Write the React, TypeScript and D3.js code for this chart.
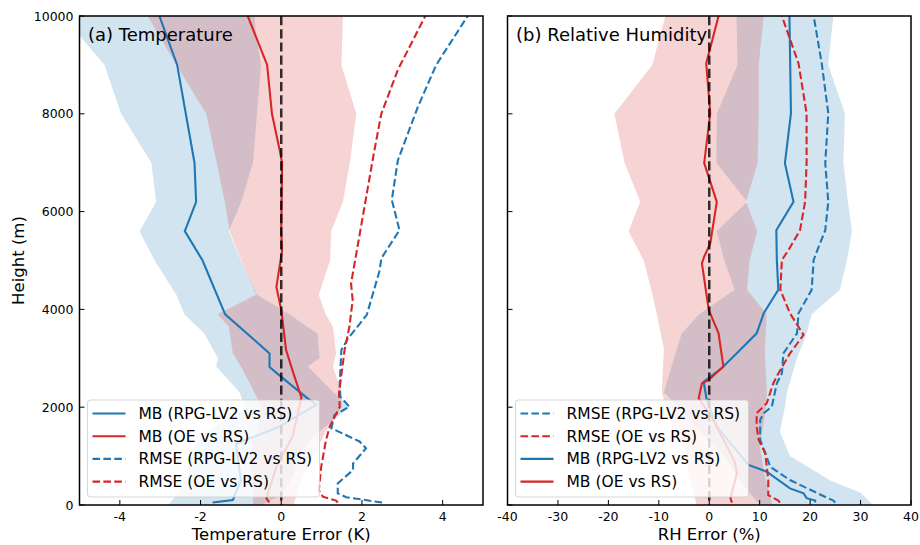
import React from 'react';
import * as d3 from 'd3';

// [height (m), value]
const tMbRpg = [[50, -1.7], [100, -1.2], [200, -1.15], [500, -1.0], [800, -1.05], [1250, -1.12], [1600, -0.05], [2050, 0.87], [2200, 0.62], [2620, 0.0], [2820, -0.29], [3100, -0.29], [3900, -1.39], [5000, -1.95], [5600, -2.39], [6200, -2.11], [7000, -2.15], [9000, -2.58], [10000, -3.02]];
const tMbOe = [[50, -0.3], [140, -0.37], [780, -0.12], [1400, 0.28], [2200, 0.5], [2620, 0.33], [3170, 0.12], [3990, 0.0], [4460, -0.12], [5200, 0.02], [5600, 0.0], [7000, 0.02], [7260, -0.04], [8000, -0.23], [9000, -0.35], [10000, -0.83]];
const tRmseRpg = [[50, 2.5], [160, 1.61], [240, 1.4], [440, 1.4], [715, 1.78], [850, 1.78], [1160, 2.1], [1300, 1.94], [1570, 1.24], [1840, 1.32], [2010, 1.69], [2215, 1.46], [2490, 1.45], [3170, 1.49], [3400, 1.65], [3700, 1.94], [3890, 2.12], [4800, 2.44], [5045, 2.48], [5620, 2.93], [6240, 2.74], [7050, 2.89], [8150, 3.39], [9000, 3.84], [10000, 4.62]];
const tRmseOe = [[50, 1.4], [90, 1.36], [170, 1.03], [300, 0.93], [780, 0.99], [1330, 1.11], [1600, 1.2], [2010, 1.45], [2280, 1.43], [3170, 1.57], [3650, 1.69], [4190, 1.77], [4530, 1.73], [5045, 1.84], [6510, 2.15], [7260, 2.31], [8000, 2.48], [8900, 2.89], [10000, 3.57]];

// [height, lower, upper]
const tBandRpg = [[0, -2.8, -0.5], [200, -2.6, 0.0], [600, -2.3, 0.3], [1000, -2.3, 0.4], [1400, -2.0, 0.8], [1800, -1.3, 1.4], [2000, -0.9, 1.69], [2300, -1.03, 1.3], [2830, -1.61, 0.66], [3000, -1.57, 0.95], [3500, -1.9, 0.9], [3900, -2.4, 0.2], [4300, -2.6, -0.6], [5000, -3.14, -1.0], [5600, -3.51, -1.3], [6200, -3.1, -0.99], [7000, -3.22, -0.7], [8000, -3.97, -0.6], [9000, -4.38, -0.5], [9600, -5.0, -0.62], [10000, -5.6, -0.66]];
const tBandOe = [[0, -0.7, 0.3], [500, -0.7, 0.5], [1000, -0.8, 0.8], [1500, -0.6, 1.1], [2000, -0.5, 1.5], [2300, -0.66, 1.5], [2830, -1.0, 1.28], [3100, -1.2, 1.36], [3650, -1.3, 1.28], [3900, -1.58, 1.1], [4300, -0.62, 0.93], [5000, -0.99, 1.21], [5600, -1.28, 1.24], [6200, -1.4, 1.53], [7000, -1.6, 1.7], [8000, -1.86, 1.86], [9000, -2.6, 1.49], [10000, -3.31, 1.53]];

const rhMbRpg = [[50, 21], [90, 21], [140, 19.3], [240, 18.7], [340, 16], [680, 11.4], [820, 7.8], [1600, 1.5], [2150, -0.5], [2520, -1.1], [2800, 2.5], [3170, 6.1], [3510, 9.4], [3920, 10.8], [4400, 13.7], [5010, 13.4], [5620, 13.3], [6200, 16.7], [6990, 15.0], [8010, 16.2], [10000, 15.9]];
const rhMbOe = [[50, 4.5], [140, 4.2], [650, 5.5], [900, 5], [1300, 3], [1800, 0.5], [2180, -2.1], [2490, -1.45], [2560, -0.1], [2830, 2.8], [3510, 1.85], [3990, -0.1], [4940, -1.45], [5080, -1.0], [5350, 0.2], [6200, 1.5], [6990, -1.0], [8010, 0.2], [9030, -0.6], [10000, 1.85]];
const rhRmseRpg = [[50, 25], [90, 24.6], [200, 22.3], [510, 16], [780, 12.1], [1060, 11.1], [1330, 10.1], [1740, 10.1], [1880, 10.8], [2010, 12.4], [2490, 13.4], [2690, 14.4], [3100, 14.7], [3510, 17.4], [3920, 17.7], [4400, 20.3], [5010, 20.7], [5150, 21.2], [5620, 23], [6200, 23.6], [6990, 23], [8010, 23.6], [9030, 22.3], [10000, 20.7]];
const rhRmseOe = [[50, 14], [90, 13.7], [200, 11.7], [510, 11.7], [1060, 11.1], [1330, 9.8], [1600, 9.4], [1880, 9.4], [2080, 11.4], [2490, 12.7], [2690, 13.7], [3100, 16], [3480, 18.7], [3920, 16], [4400, 14.1], [5010, 14.4], [5210, 15.7], [5620, 18.0], [6200, 19.0], [6990, 19.3], [8010, 19.3], [9030, 17.7], [10000, 14.4]];

const rhBandRpg = [[0, 10, 32.5], [250, 8, 30], [500, 6, 24], [1000, 3, 16], [1500, -2, 14], [2000, -6, 15], [2300, -9, 15.4], [3000, -7, 17.4], [3500, -5.5, 19.3], [3900, -2, 20.3], [4400, 5, 25.9], [5000, 3, 27.3], [5600, 1.5, 28.3], [6200, 7.5, 27.5], [7000, 1.4, 26.6], [8000, 1.5, 26.9], [9000, 5.6, 23.6], [10000, 5.4, 24.6]];
const rhBandOe = [[0, -2.5, 12.5], [200, -3, 12], [600, -4, 11], [1200, -5, 10], [1800, -8, 11], [2300, -9.4, 11.4], [3200, -9, 11], [3900, -10.4, 11.4], [4400, -11.5, 7.5], [5000, -13, 8], [5600, -16, 9.5], [6200, -13.7, 7.3], [7000, -16.8, 9.6], [8000, -18.8, 9.8], [9000, -11.3, 9.8], [10000, -8.7, 10.8]];

const heightTicks = [0, 2000, 4000, 6000, 8000, 10000];
const tTicks = [-4, -2, 0, 2, 4];
const rhTicks = [-40, -30, -20, -10, 0, 10, 20, 30, 40];

const BLUE = '#1f77b4';
const RED = '#d62728';
const FONT = 'DejaVu Sans, sans-serif';

const top = 16, bottom = 505;
const y = d3.scaleLinear().domain([0, 10000]).range([bottom, top]);

function Panel({ id, x0, x1, domain, ticks, title, xlabel, showY, series, bands, legend, legendW }) {
  const x = d3.scaleLinear().domain(domain).range([x0, x1]);
  const line = d3.line().x(d => x(d[1])).y(d => y(d[0]));
  const area = d3.area().y(d => y(d[0])).x0(d => x(d[1])).x1(d => x(d[2]));
  const lx = x0 + 8, ly = 400;
  return (
    <g>
      <defs>
        <clipPath id={id}><rect x={x0} y={top} width={x1 - x0} height={bottom - top} /></clipPath>
      </defs>
      <g clipPath={`url(#${id})`}>
        {bands.map((b, i) => <path key={i} d={area(b.data)} fill={b.color} fillOpacity={0.2} />)}
        {series.map((s, i) => (
          <path key={i} d={line(s.data)} fill="none" stroke={s.color} strokeWidth={2.1}
                strokeDasharray={s.dash ? '7.6,3.3' : null} />
        ))}
        <line x1={x(0)} x2={x(0)} y1={top} y2={bottom} stroke="#000" strokeOpacity={0.8}
              strokeWidth={2.5} strokeDasharray="9.2,4" />
      </g>
      <rect x={x0} y={top} width={x1 - x0} height={bottom - top} fill="none" stroke="#000" strokeWidth={1.5} />
      {ticks.map(t => (
        <g key={t}>
          <line x1={x(t)} x2={x(t)} y1={bottom} y2={bottom - 5} stroke="#000" strokeWidth={1} />
          <text x={x(t)} y={bottom + 16} textAnchor="middle" fontSize={12.5} fontFamily={FONT}>{t}</text>
        </g>
      ))}
      {heightTicks.map(t => (
        <g key={t}>
          <line x1={x0} x2={x0 + 5} y1={y(t)} y2={y(t)} stroke="#000" strokeWidth={1} />
          {showY && <text x={x0 - 6} y={y(t) + 4.5} textAnchor="end" fontSize={12.5} fontFamily={FONT}>{t}</text>}
        </g>
      ))}
      <text x={x0 + 8.5} y={41} fontSize={18} fontFamily={FONT}>{title}</text>
      <text x={(x0 + x1) / 2} y={540} textAnchor="middle" fontSize={16.5} fontFamily={FONT}>{xlabel}</text>
      <rect x={lx} y={ly} width={legendW} height={97} rx={3} fill="#fff" fillOpacity={0.8}
            stroke="#ccc" strokeOpacity={0.8} />
      {legend.map((s, i) => (
        <g key={i} transform={`translate(${lx + 5},${ly + 13.5 + i * 22.7})`}>
          <line x1={0} x2={33} y1={0} y2={0} stroke={s.color} strokeWidth={2.1}
                strokeDasharray={s.dash ? '7.6,3.3' : null} />
          <text x={46} y={5.5} fontSize={15.5} fontFamily={FONT}>{s.label}</text>
        </g>
      ))}
    </g>
  );
}

export default function App() {
  const tSeries = {
    mbRpg: { data: tMbRpg, color: BLUE, dash: false, label: 'MB (RPG-LV2 vs RS)' },
    mbOe: { data: tMbOe, color: RED, dash: false, label: 'MB (OE vs RS)' },
    rmseRpg: { data: tRmseRpg, color: BLUE, dash: true, label: 'RMSE (RPG-LV2 vs RS)' },
    rmseOe: { data: tRmseOe, color: RED, dash: true, label: 'RMSE (OE vs RS)' },
  };
  const rhSeries = {
    mbRpg: { data: rhMbRpg, color: BLUE, dash: false, label: 'MB (RPG-LV2 vs RS)' },
    mbOe: { data: rhMbOe, color: RED, dash: false, label: 'MB (OE vs RS)' },
    rmseRpg: { data: rhRmseRpg, color: BLUE, dash: true, label: 'RMSE (RPG-LV2 vs RS)' },
    rmseOe: { data: rhRmseOe, color: RED, dash: true, label: 'RMSE (OE vs RS)' },
  };
  return (
    <svg width={920} height={545} style={{ position: 'absolute', left: 0, top: 0, background: '#fff' }}>
      <text transform={`translate(24,${(top + bottom) / 2}) rotate(-90)`} textAnchor="middle"
            fontSize={16.5} fontFamily={FONT}>Height (m)</text>
      <Panel id="clipA" x0={79.5} x1={483} domain={[-5, 5]} ticks={tTicks}
             title="(a) Temperature" xlabel="Temperature Error (K)" showY={true}
             bands={[{ data: tBandRpg, color: BLUE }, { data: tBandOe, color: RED }]}
             series={[tSeries.mbRpg, tSeries.mbOe, tSeries.rmseRpg, tSeries.rmseOe]}
             legend={[tSeries.mbRpg, tSeries.mbOe, tSeries.rmseRpg, tSeries.rmseOe]} legendW={232} />
      <Panel id="clipB" x0={507.5} x1={911} domain={[-40, 40]} ticks={rhTicks}
             title="(b) Relative Humidity" xlabel="RH Error (%)" showY={false}
             bands={[{ data: rhBandRpg, color: BLUE }, { data: rhBandOe, color: RED }]}
             series={[rhSeries.mbRpg, rhSeries.mbOe, rhSeries.rmseRpg, rhSeries.rmseOe]}
             legend={[rhSeries.rmseRpg, rhSeries.rmseOe, rhSeries.mbRpg, rhSeries.mbOe]} legendW={233} />
    </svg>
  );
}
